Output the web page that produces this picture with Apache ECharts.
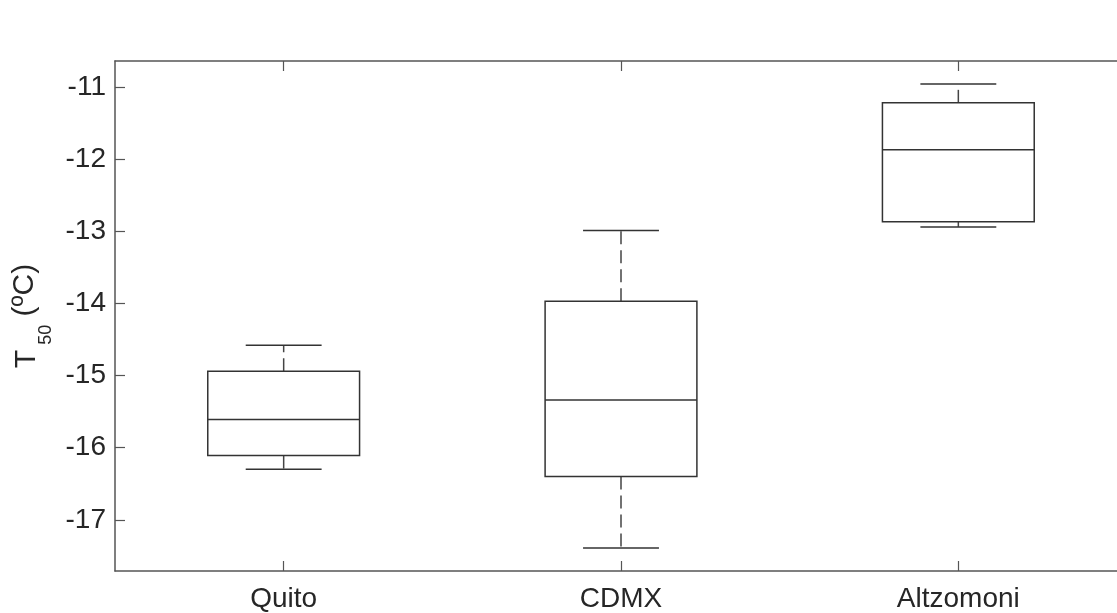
<!DOCTYPE html>
<html>
<head>
<meta charset="utf-8">
<script src="https://cdn.jsdelivr.net/npm/echarts@6/dist/echarts.min.js"></script>
<style>
html,body{margin:0;padding:0;background:#fff;}
#chart{width:1117px;height:613px;}
</style>
</head>
<body>
<div id="chart"></div>
<script>
const categories = ['Quito', 'CDMX', 'Altzomoni'];
const lowerWhisker = [-16.30, -17.39, -12.94];
const q1 = [-16.11, -16.40, -12.87];
const median = [-15.61, -15.34, -11.87];
const q3 = [-14.94, -13.97, -11.22];
const upperWhisker = [-14.58, -12.99, -10.96];
const yTicks = [-17, -16, -15, -14, -13, -12, -11];
const yMin = -17.71;
const yMax = -10.64;

const boxData = categories.map((c, i) => [i, lowerWhisker[i], q1[i], median[i], q3[i], upperWhisker[i]]);

const axisColor = '#555';
const textColor = '#262626';
const boxColor = '#333';
const font = 'Liberation Sans, Arial, sans-serif';

const chart = echarts.init(document.getElementById('chart'));
chart.setOption({
  animation: false,
  backgroundColor: '#fff',
  grid: { left: 115, top: 61, width: 1012, height: 510, containLabel: false, outerBoundsMode: 'none' },
  xAxis: [
    {
      type: 'category', data: categories, position: 'bottom', boundaryGap: true,
      axisLine: { show: true, lineStyle: { color: axisColor, width: 1.5 } },
      axisTick: { show: true, inside: true, length: 10, alignWithLabel: true, lineStyle: { color: axisColor, width: 1.2 } },
      axisLabel: { color: textColor, fontSize: 28, fontFamily: font, margin: 14 },
      splitLine: { show: false }
    },
    {
      type: 'category', data: categories, position: 'top', boundaryGap: true,
      axisLine: { show: true, lineStyle: { color: axisColor, width: 1.5 } },
      axisTick: { show: true, inside: true, length: 10, alignWithLabel: true, lineStyle: { color: axisColor, width: 1.2 } },
      axisLabel: { show: false },
      splitLine: { show: false }
    }
  ],
  yAxis: [
    {
      type: 'value', position: 'left', min: yMin, max: yMax,
      name: 'T{sub|50}{n| (ºC)}',
      nameLocation: 'middle', nameRotate: 90, nameGap: 62,
      nameTextStyle: {
        color: textColor, fontSize: 30, fontFamily: font,
        rich: {
          sub: { fontSize: 18, lineHeight: 18, padding: [27, 0, 0, 5], verticalAlign: 'top', color: textColor, fontFamily: font },
          n: { fontSize: 30, lineHeight: 34, verticalAlign: 'top', color: textColor, fontFamily: font }
        },
        lineHeight: 34, verticalAlign: 'top'
      },
      axisLine: { show: true, lineStyle: { color: axisColor, width: 1.5 } },
      axisTick: { show: true, inside: true, length: 10, customValues: yTicks, lineStyle: { color: axisColor, width: 1.2 } },
      axisLabel: { color: textColor, fontSize: 28, fontFamily: font, margin: 9, customValues: yTicks, formatter: v => String(v) },
      splitLine: { show: false }
    },
    {
      type: 'value', position: 'right', min: yMin, max: yMax,
      axisLine: { show: true, lineStyle: { color: axisColor, width: 1.5 } },
      axisTick: { show: true, inside: true, length: 10, customValues: yTicks, lineStyle: { color: axisColor, width: 1.2 } },
      axisLabel: { show: false },
      splitLine: { show: false }
    }
  ],
  series: [{
    type: 'custom',
    xAxisIndex: 0, yAxisIndex: 0,
    data: boxData,
    renderItem: function (params, api) {
      const xi = api.value(0);
      const pLow = api.coord([xi, api.value(1)]);
      const pQ1 = api.coord([xi, api.value(2)]);
      const pMed = api.coord([xi, api.value(3)]);
      const pQ3 = api.coord([xi, api.value(4)]);
      const pHigh = api.coord([xi, api.value(5)]);
      const band = api.size([1, 0])[0];
      const bw = band * 0.45;
      const cw = bw / 2;
      const cx = pMed[0];
      const solid = { stroke: boxColor, lineWidth: 1.5, fill: null };
      const dashed = { stroke: '#444', lineWidth: 1.5, lineDash: [13, 6], fill: null };
      return {
        type: 'group',
        children: [
          { type: 'line', shape: { x1: cx, y1: pQ3[1], x2: cx, y2: pHigh[1] }, style: dashed },
          { type: 'line', shape: { x1: cx, y1: pQ1[1], x2: cx, y2: pLow[1] }, style: dashed },
          { type: 'line', shape: { x1: cx - cw / 2, y1: pHigh[1], x2: cx + cw / 2, y2: pHigh[1] }, style: solid },
          { type: 'line', shape: { x1: cx - cw / 2, y1: pLow[1], x2: cx + cw / 2, y2: pLow[1] }, style: solid },
          { type: 'rect', shape: { x: cx - bw / 2, y: pQ3[1], width: bw, height: pQ1[1] - pQ3[1] }, style: { stroke: boxColor, lineWidth: 1.5, fill: 'rgba(0,0,0,0)' } },
          { type: 'line', shape: { x1: cx - bw / 2, y1: pMed[1], x2: cx + bw / 2, y2: pMed[1] }, style: solid }
        ]
      };
    }
  }]
});
</script>
</body>
</html>
